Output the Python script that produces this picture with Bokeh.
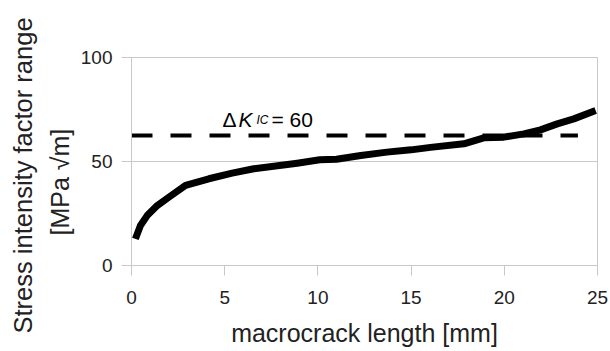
from bokeh.plotting import figure
from bokeh.models import Range1d, FixedTicker, Label, Title
from bokeh.embed import file_html
from bokeh.resources import INLINE

# data
crack_length = [0.21, 0.48, 0.84, 1.38, 2.0, 2.9, 4.15, 5.4, 6.56, 8.89, 10.1, 11.0,
                12.3, 13.7, 15.0, 16.04, 17.83, 18.9, 19.97, 21.05, 21.94, 22.84,
                23.73, 24.9]
delta_k = [12.8, 19.2, 24.0, 28.8, 32.8, 38.5, 41.7, 44.4, 46.5, 49.2, 50.8, 51.1,
           52.9, 54.5, 55.6, 56.8, 58.5, 61.4, 61.7, 63.3, 65.2, 68.1, 70.5, 74.5]
threshold_x = [0, 23.95]
threshold_y = [62.5, 62.5]
x_ticks = [0, 5, 10, 15, 20, 25]
y_ticks = [0, 50, 100]
y_label_lines = ["Stress intensity factor range", "[MPa \u221am]"]

FONT = "Liberation Sans"
GRID = "#c8c8c8"
TXT = "#222222"

p = figure(width=610, height=351, output_backend="svg", toolbar_location=None,
           x_range=Range1d(0, 25), y_range=Range1d(0, 100),
           min_border_left=131, min_border_right=13, min_border_top=57,
           min_border_bottom=86)
p.background_fill_color = "white"
p.border_fill_color = "white"
p.outline_line_color = GRID
p.outline_line_width = 1

p.xgrid.grid_line_color = None
p.ygrid.grid_line_color = GRID
p.ygrid.ticker = FixedTicker(ticks=y_ticks)

for ax in (p.xaxis[0], p.yaxis[0]):
    ax.axis_line_color = GRID
    ax.major_tick_line_color = GRID
    ax.minor_tick_line_color = None
    ax.major_tick_in = 0
    ax.major_tick_out = 10
    ax.major_label_text_font = FONT
    ax.major_label_text_font_size = "19px"
    ax.major_label_text_color = TXT
    ax.axis_label_text_font = FONT
    ax.axis_label_text_font_size = "25px"
    ax.axis_label_text_font_style = "normal"
    ax.axis_label_text_color = TXT

p.xaxis.ticker = FixedTicker(ticks=x_ticks)
p.yaxis.ticker = FixedTicker(ticks=y_ticks)
p.xaxis.axis_label = "macrocrack length [mm]"
p.xaxis.major_label_standoff = 15
p.yaxis.major_label_standoff = 9
p.xaxis.axis_label_standoff = 12

# y axis title as two stacked left titles (first added sits closest to the axis)
p.add_layout(Title(text=y_label_lines[1], align="left", offset=30, standoff=8,
                   text_font=FONT, text_font_size="25px", text_font_style="normal",
                   text_color=TXT), "left")
p.add_layout(Title(text=y_label_lines[0], align="left", offset=-68, standoff=6,
                   text_font=FONT, text_font_size="25.5px", text_font_style="normal",
                   text_color=TXT), "left")

p.line(threshold_x, threshold_y, line_color="black", line_width=4, line_dash="21 18")
p.line(crack_length, delta_k, line_color="black", line_width=7, line_join="round")

lx, ly = 4.88, 70.0
common = dict(x=lx, y=ly, text_font=FONT, text_color="black", text_baseline="alphabetic")
p.add_layout(Label(text="\u0394", text_font_size="21px", **common))
p.add_layout(Label(text="K", text_font_size="21px", text_font_style="italic", x_offset=16, **common))
p.add_layout(Label(text="IC", text_font_size="12px", text_font_style="italic", x_offset=34, **common))
p.add_layout(Label(text="= 60", text_font_size="21px", x_offset=49, **common))

open("out.html", "w").write(file_html(p, INLINE))
